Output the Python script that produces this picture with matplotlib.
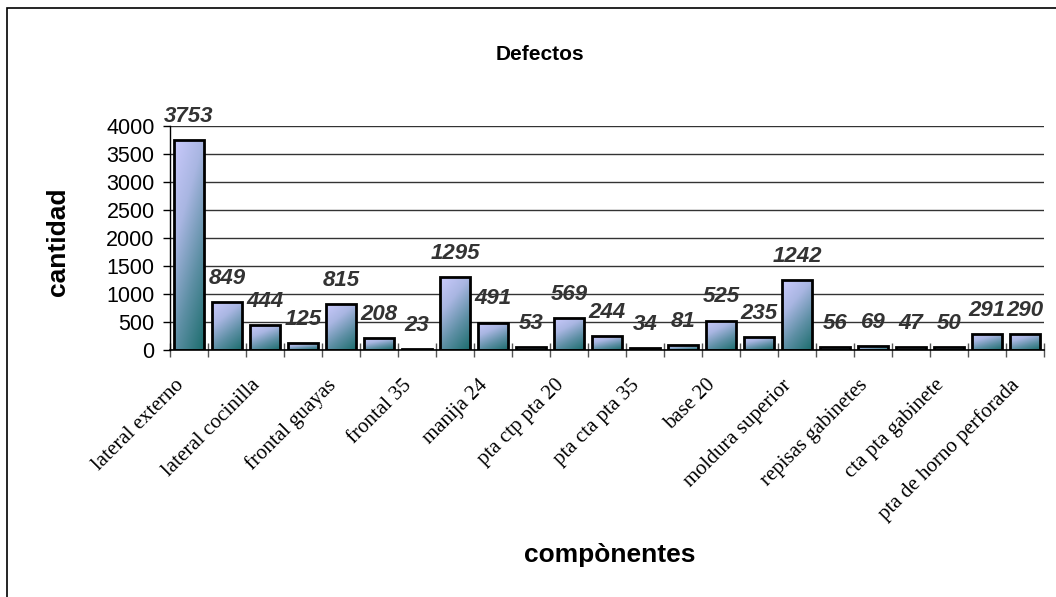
import numpy as np
import matplotlib.pyplot as plt
import matplotlib.transforms as mtransforms
from matplotlib.patches import Rectangle
from matplotlib.colors import LinearSegmentedColormap

values = [3753, 849, 444, 125, 815, 208, 23, 1295, 491, 53, 569, 244,
          34, 81, 525, 235, 1242, 56, 69, 47, 50, 291, 290]
shown_labels = ["lateral externo", "lateral cocinilla", "frontal guayas", "frontal 35",
                "manija 24", "pta ctp pta 20", "pta cta pta 35", "base 20",
                "moldura superior", "repisas gabinetes", "cta pta gabinete",
                "pta de horno perforada"]
yticks = [0, 500, 1000, 1500, 2000, 2500, 3000, 3500, 4000]

W, H = 1056, 597
fig = plt.figure(figsize=(W / 100, H / 100), dpi=100)
ax = fig.add_axes([170 / W, 1 - 350 / H, (1044 - 170) / W, (350 - 126) / H])

# frame of the chart area (only left and top edges fall inside the picture)
fig.add_artist(Rectangle((7 / W, -0.1), 1.2, 1 - 8 / H + 0.1, transform=fig.transFigure,
                         fill=False, edgecolor="black", linewidth=1.2))

cmap = LinearSegmentedColormap.from_list("bar", ["#cacafc", "#a9b6e2", "#5d8fa4", "#1c6d6d"])
gx, gy = np.meshgrid(np.linspace(0, 1, 60), np.linspace(0, 1, 200))
grad = (gx * 0.45 + gy * 0.9)  # row 0 = top of bar (imshow origin upper)
grad = grad / grad.max()

n = len(values)
width = 0.78
for i, v in enumerate(values):
    x0 = i - width / 2
    rect = Rectangle((x0, 0), width, v, facecolor="none", edgecolor="black",
                     linewidth=2, zorder=3)
    ax.add_patch(rect)
    im = ax.imshow(grad, extent=[x0, x0 + width, 0, v], aspect="auto", cmap=cmap,
                   zorder=2, interpolation="bilinear")
    im.set_clip_path(rect)
    ax.annotate(str(v), (i, v), xytext=(0, 17), textcoords="offset points",
                ha="center", va="center", fontsize=16, fontweight="bold",
                fontstyle="italic", color="#333333", family="Liberation Sans")

ax.set_xlim(-0.5, n - 0.5)
ax.set_ylim(0, 4000)
ax.set_yticks(yticks)
ax.set_yticklabels([str(t) for t in yticks], fontsize=15.5, family="Liberation Sans")
ax.grid(axis="y", color="#333333", linewidth=1)
ax.set_axisbelow(True)

ax.set_xticks(np.arange(n + 1) - 0.5)
ax.set_xticklabels([])
ax.tick_params(axis="x", which="major", direction="inout", length=10, width=1, color="#555555")
ax.set_xticks(np.arange(0, n, 2), minor=True)
ax.set_xticklabels(shown_labels, minor=True, rotation=45, ha="right", va="center",
                   rotation_mode="anchor", fontsize=15, family="Liberation Serif")
ax.tick_params(axis="x", which="minor", length=0, pad=22)
ax.tick_params(axis="y", direction="out", length=5, width=1, pad=6)

shift = mtransforms.ScaledTranslation(-8 / 100, -2 / 100, fig.dpi_scale_trans)
for lab in ax.get_xticklabels(minor=True):
    lab.set_transform(lab.get_transform() + shift)

for s in ["top", "right"]:
    ax.spines[s].set_visible(False)
ax.spines["left"].set_linewidth(1)
ax.spines["bottom"].set_linewidth(1.2)

fig.text(540 / W, 1 - 55 / H, "Defectos", ha="center", va="center", fontsize=15,
         fontweight="bold", family="Liberation Sans")
fig.text(58 / W, 1 - 242 / H, "cantidad", ha="center", va="center", rotation=90,
         fontsize=19, fontweight="bold", family="Liberation Sans")
fig.text(610 / W, 1 - 555 / H, "compònentes", ha="center", va="center", fontsize=19,
         fontweight="bold", family="Liberation Sans")

fig.savefig("out.png", dpi=100)
